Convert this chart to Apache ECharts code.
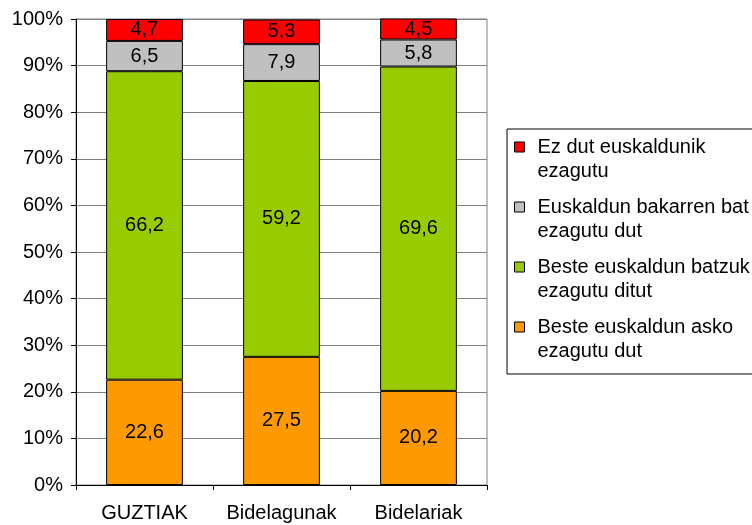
<!DOCTYPE html>
<html><head><meta charset="utf-8">
<script src="https://cdn.jsdelivr.net/npm/echarts@6/dist/echarts.min.js"></script>
<style>html,body{margin:0;padding:0;background:#fff}#c{width:752px;height:525px}</style>
</head><body><div id="c"></div>
<script>
const categories = ['GUZTIAK', 'Bidelagunak', 'Bidelariak'];
const seriesNames = ['Beste euskaldun asko\nezagutu dut', 'Beste euskaldun batzuk\nezagutu ditut', 'Euskaldun bakarren bat\nezagutu dut', 'Ez dut euskaldunik\nezagutu'];
const askoValues = [22.6, 27.5, 20.2];
const batzukValues = [66.2, 59.2, 69.6];
const bakarValues = [6.5, 7.9, 5.8];
const ezValues = [4.7, 5.3, 4.5];
const colors = ['#FF9900', '#99CC00', '#C0C0C0', '#FF0000'];
const yTicks = [0, 10, 20, 30, 40, 50, 60, 70, 80, 90, 100];

const FONT = 'Liberation Sans, Arial, sans-serif';
const FS = 20;
const allValues = [askoValues, batzukValues, bakarValues, ezValues];
const chart = echarts.init(document.getElementById('c'), null, {renderer: 'canvas'});
const series = allValues.map((vals, i) => ({
  name: seriesNames[i],
  type: 'bar',
  stack: 'total',
  barWidth: '56%',
  data: vals,
  itemStyle: {color: colors[i], borderColor: '#000', borderWidth: 1},
  label: {show: true, position: 'inside', color: '#000', fontFamily: FONT, fontSize: FS,
    formatter: p => String(p.value).replace('.', ',')},
  emphasis: {disabled: true}
}));
chart.setOption({
  animation: false,
  grid: {left: 76, right: 265, top: 19, bottom: 40, show: true, borderColor: '#808080', borderWidth: 1},
  xAxis: {type: 'category', data: categories,
    axisLine: {lineStyle: {color: '#000', width: 1}},
    axisTick: {show: true, length: 5, interval: 0, lineStyle: {color: '#000'}},
    axisLabel: {color: '#000', fontFamily: FONT, fontSize: FS, margin: 18, interval: 0, hideOverlap: false}},
  yAxis: {type: 'value', min: yTicks[0], max: yTicks[yTicks.length - 1], interval: 10,
    axisLine: {show: true, lineStyle: {color: '#000', width: 1}},
    axisTick: {show: true, length: 5, lineStyle: {color: '#000'}},
    splitLine: {lineStyle: {color: '#808080', width: 1}},
    axisLabel: {color: '#000', fontFamily: FONT, fontSize: FS, margin: 13, formatter: '{value}%'}},
  legend: {orient: 'vertical', left: 507, top: 129,
    data: seriesNames.slice().reverse(),
    itemWidth: 18, itemHeight: 34, itemGap: 12,
    icon: 'path://M0,0h10v10h-10zM18,34',
    itemStyle: {borderColor: '#000', borderWidth: 1},
    borderColor: '#000', borderWidth: 1, padding: [6, 30, 11, 7],
    textStyle: {color: '#000', fontFamily: FONT, fontSize: FS, lineHeight: 24},
    selectedMode: false},
  series: series
});
</script></body></html>
